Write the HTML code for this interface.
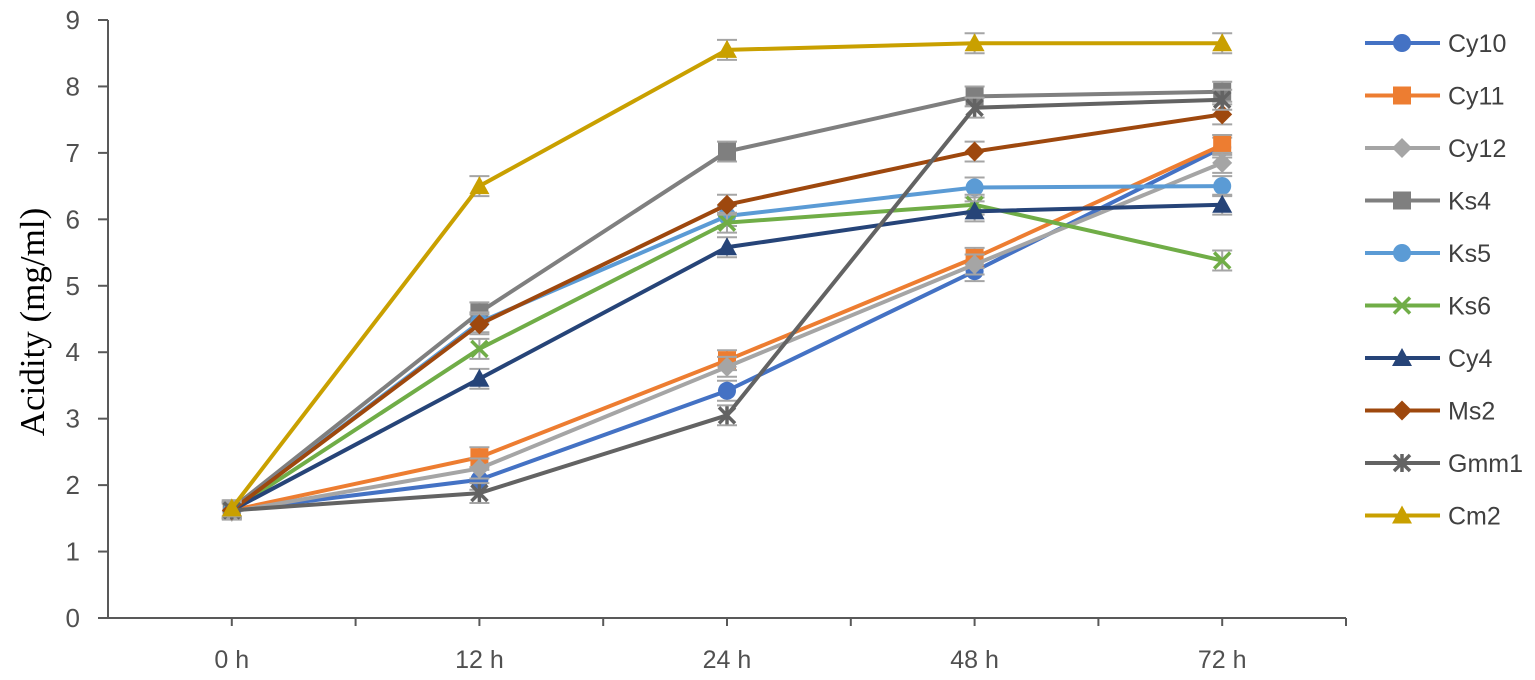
<!DOCTYPE html>
<html><head><meta charset="utf-8"><style>
html,body{margin:0;padding:0;background:#fff;width:1535px;height:680px;overflow:hidden}
</style></head><body>
<svg id="chart" width="1535" height="680" xmlns="http://www.w3.org/2000/svg"></svg>
<script>
const categories=["0 h","12 h","24 h","48 h","72 h"];
const yTicks=[0,1,2,3,4,5,6,7,8,9];
const seriesNames=["Cy10","Cy11","Cy12","Ks4","Ks5","Ks6","Cy4","Ms2","Gmm1","Cm2"];
const cy10=[1.62,2.08,3.42,5.22,7.08];
const cy11=[1.62,2.42,3.88,5.42,7.12];
const cy12=[1.60,2.25,3.78,5.32,6.85];
const ks4=[1.65,4.60,7.02,7.85,7.92];
const ks5=[1.62,4.45,6.05,6.48,6.50];
const ks6=[1.62,4.05,5.95,6.22,5.38];
const cy4=[1.62,3.60,5.58,6.12,6.22];
const ms2=[1.62,4.42,6.22,7.02,7.58];
const gmm1=[1.62,1.88,3.05,7.68,7.80];
const cm2=[1.65,6.50,8.55,8.65,8.65];
const errors=[0.12,0.15,0.15,0.15,0.15];
const seriesValues=[cy10,cy11,cy12,ks4,ks5,ks6,cy4,ms2,gmm1,cm2];
const colors=["#4472C4","#ED7D31","#A5A5A5","#7F7F7F","#5B9BD5","#70AD47","#264478","#9E480E","#636363","#C9A000"];
const markers=["circle","square","diamond","square","circle","x","triangle","diamond","star","triangle"];

const svg=document.getElementById('chart');
const NS="http://www.w3.org/2000/svg";
const X0=108,X1=1346,Y0=618,Y9=20;
const band=(X1-X0)/categories.length;
function xs(i){return X0+band*(i+0.5);}
function ys(v){return Y0-(Y0-Y9)*v/9;}
function mk(t,a,p){const e=document.createElementNS(NS,t);for(const k in a)e.setAttribute(k,a[k]);(p||svg).appendChild(e);return e;}

let ax=mk('line',{x1:X0,y1:Y9,x2:X0,y2:Y0,stroke:'#595959','stroke-width':2});


let bx=mk('line',{x1:X0-10,y1:Y0,x2:X1,y2:Y0,stroke:'#595959','stroke-width':2});


yTicks.forEach(v=>{
  const t=mk('line',{x1:X0-10,y1:ys(v),x2:X0,y2:ys(v),stroke:'#595959','stroke-width':2});
  
  
  const l=mk('text',{x:X0-28,y:ys(v)+9,'text-anchor':'end','font-family':'Liberation Sans, sans-serif','font-size':26,fill:'#505050'});
  l.textContent=v;
  
  
});
for(let i=1;i<=categories.length*2;i++){
  const x=X0+band/2*i;
  const t=mk('line',{x1:x,y1:Y0,x2:x,y2:Y0+8,stroke:'#595959','stroke-width':2});
  
  
}
categories.forEach((c,i)=>{
  const l=mk('text',{x:xs(i),y:668,'text-anchor':'middle','font-family':'Liberation Sans, sans-serif','font-size':25,fill:'#505050'});
  l.textContent=c;
  
  
});
const yt=mk('text',{x:0,y:0,transform:'translate(44,322) rotate(-90)','text-anchor':'middle','font-family':'Liberation Serif, serif','font-size':35,fill:'#000'});
yt.textContent='Acidity (mg/ml)';



function marker(type,x,y,c,g){
  let e;
  if(type==='circle')e=mk('circle',{cx:x,cy:y,r:9,fill:c},g);
  else if(type==='square')e=mk('rect',{x:x-9,y:y-9,width:18,height:18,fill:c},g);
  else if(type==='diamond')e=mk('polygon',{points:`${x},${y-10} ${x+10},${y} ${x},${y+10} ${x-10},${y}`,fill:c},g);
  else if(type==='triangle')e=mk('polygon',{points:`${x},${y-10} ${x+10},${y+8} ${x-10},${y+8}`,fill:c},g);
  else if(type==='x')e=mk('path',{d:`M${x-8},${y-8}L${x+8},${y+8}M${x-8},${y+8}L${x+8},${y-8}`,stroke:c,'stroke-width':3.5,fill:'none'},g);
  else e=mk('path',{d:`M${x-8},${y-8}L${x+8},${y+8}M${x-8},${y+8}L${x+8},${y-8}M${x},${y-9}L${x},${y+9}`,stroke:c,'stroke-width':3.5,fill:'none'},g);
  
  
}

seriesValues.forEach((vals,s)=>{
  const g=mk('g',{});
  
  
  vals.forEach((v,i)=>{
    const e=errors[i],x=xs(i);
    const eb=mk('path',{d:`M${x},${ys(v+e)}L${x},${ys(v-e)}M${x-10},${ys(v+e)}L${x+10},${ys(v+e)}M${x-10},${ys(v-e)}L${x+10},${ys(v-e)}`,stroke:'#A5A5A5','stroke-width':2,fill:'none'},g);
    
    
  });
  const pl=mk('polyline',{points:vals.map((v,i)=>xs(i)+','+ys(v)).join(' '),fill:'none',stroke:colors[s],'stroke-width':4},g);
  
  
  vals.forEach((v,i)=>marker(markers[s],xs(i),ys(v),colors[s],g));
  const ly=43+s*52.5;
  const lg=mk('g',{});
  
  
  mk('line',{x1:1365,y1:ly,x2:1440,y2:ly,stroke:colors[s],'stroke-width':4},lg);
  marker(markers[s],1402,ly,colors[s],lg);
  const t=mk('text',{x:1448,y:ly+9,'font-family':'Liberation Sans, sans-serif','font-size':25,fill:'#404040'},lg);
  t.textContent=seriesNames[s];
});
</script>
</body></html>
